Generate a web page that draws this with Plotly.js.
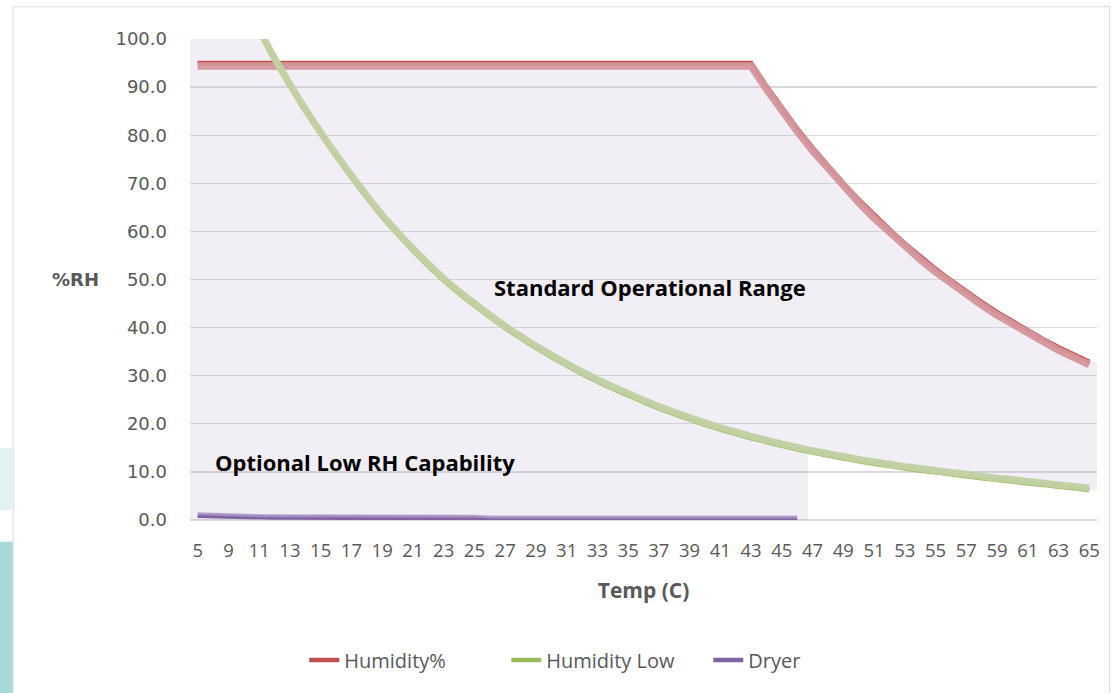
<!DOCTYPE html>
<html>
<head>
<meta charset="utf-8">
<script src="https://cdn.plot.ly/plotly-3.0.1.min.js"></script>
<style>html,body{margin:0;padding:0;background:#fff;}#chart{width:1111px;height:693px;}</style>
</head>
<body>
<div id="chart"></div>
<script>
// ---- data ----
const temps = [5, 7, 9, 10, 11, 12, 13, 14, 15, 16, 17, 18, 19, 20, 21, 22, 23, 24, 25, 26, 27, 28, 29, 30,
  31, 32, 33, 34, 35, 36, 37, 38, 39, 40, 41, 42, 43, 44, 45, 46, 47, 48, 49, 50, 51, 52, 53, 54, 55, 56,
  57, 58, 59, 60, 61, 62, 63, 64, 65];

const humidity = [95, 95, 95, 95, 95, 95, 95, 95, 95, 95, 95, 95, 95, 95, 95, 95, 95, 95, 95, 95, 95, 95, 95, 95,
  95, 95, 95, 95, 95, 95, 95, 95, 95, 95, 95, 95, 95, 90.2, 85.7, 81.4, 77.4, 73.6, 70.0, 66.6, 63.4, 60.4, 57.5, 54.8, 52.2, 49.8,
  47.5, 45.3, 43.2, 41.3, 39.4, 37.6, 35.9, 34.4, 32.9];

const humidityLow = [141, 126, 113, 107, 101.5, 95.6, 90.2, 85.0, 80.2, 75.6, 71.2, 67.0, 63.0, 59.4, 56.0, 52.8, 49.8, 47.1, 44.6, 42.2, 39.9, 37.8, 35.8, 33.9,
  32.1, 30.4, 28.8, 27.3, 25.9, 24.5, 23.2, 22.0, 20.9, 19.8, 18.8, 17.9, 17.0, 16.2, 15.4, 14.7, 14.0, 13.4, 12.8, 12.2, 11.7, 11.2, 10.7, 10.3, 9.9, 9.5,
  9.1, 8.7, 8.3, 8.0, 7.6, 7.3, 6.9, 6.6, 6.2];

const dryer = [0.9, 0.8, 0.6, 0.5, 0.5, 0.5, 0.5, 0.5, 0.5, 0.5, 0.4, 0.4, 0.4, 0.4, 0.4, 0.4, 0.4, 0.4, 0.4, 0.2, 0.2, 0.2, 0.2, 0.2,
  0.2, 0.2, 0.2, 0.2, 0.2, 0.2, 0.2, 0.2, 0.2, 0.2, 0.2, 0.2, 0.2, 0.2, 0.2, 0.2, null, null, null, null, null, null, null, null, null, null,
  null, null, null, null, null, null, null, null, null];

const seriesNames = ['Humidity%', 'Humidity Low', 'Dryer'];
const regionLabels = ['Standard Operational Range', 'Optional Low RH Capability'];
const lowRangeStartTemp = 47; // optional low-RH region ends where this temperature begins

// ---- derived ----
const n = temps.length;
const idx = temps.map((t, i) => i);
const tickIdx = idx.filter(i => i % 2 === 0);
const tickText = tickIdx.map(i => String(temps[i]));

const topEdge = temps.map((t, i) => Math.min(100, Math.max(humidity[i], humidityLow[i])));
const k = temps.indexOf(lowRangeStartTemp);
const polyX = [-0.5].concat(idx, [n - 0.5, n - 0.5]);
const polyY = [topEdge[0]].concat(topEdge, [topEdge[n - 1], humidityLow[n - 1]]);
for (let i = n - 1; i >= k; i--) { polyX.push(i); polyY.push(humidityLow[i]); }
polyX.push(k - 0.3, k - 0.3, -0.5); polyY.push(humidityLow[k], 0, 0);

const RED = '#c0504d', GREEN = '#9bbb59', PURPLE = '#8064a2';
const SM = {shape: 'spline', smoothing: 0.5};
const LIN = {shape: 'linear'};
const traces = [
  {x: polyX, y: polyY, mode: 'lines', fill: 'toself', fillcolor: 'rgba(196,186,214,0.24)',
   line: {width: 0}, showlegend: false, hoverinfo: 'skip'},
  {x: idx, y: humidity, name: seriesNames[0], mode: 'lines', line: Object.assign({color: RED, width: 4.5}, LIN)},
  {x: idx, y: humidityLow, name: seriesNames[1], mode: 'lines', line: Object.assign({color: GREEN, width: 4.5}, SM)},
  {x: idx, y: dryer, name: seriesNames[2], mode: 'lines', line: Object.assign({color: PURPLE, width: 4.5}, LIN)},
  // pale highlight strokes
  {x: idx, y: humidity, yaxis: 'y2', mode: 'lines', line: Object.assign({color: 'rgba(212,150,155,0.95)', width: 7.5}, LIN),
   showlegend: false, hoverinfo: 'skip'},
  {x: idx, y: humidityLow, yaxis: 'y3', mode: 'lines', line: Object.assign({color: 'rgba(193,209,163,0.97)', width: 7}, SM),
   showlegend: false, hoverinfo: 'skip'},
  {x: idx, y: dryer, yaxis: 'y3', mode: 'lines', line: Object.assign({color: 'rgba(170,150,200,0.8)', width: 3}, LIN),
   showlegend: false, hoverinfo: 'skip'}
];

const grey = '#595959';
const layout = {
  width: 1111, height: 693,
  margin: {l: 190, r: 14, t: 39, b: 173},
  paper_bgcolor: '#ffffff', plot_bgcolor: '#ffffff',
  showlegend: true,
  legend: {orientation: 'h', x: 0.126, y: -0.291, xanchor: 'left', yanchor: 'middle',
    entrywidth: 157, entrywidthmode: 'pixels',
    font: {family: 'Open Sans, sans-serif', size: 20, color: grey}, traceorder: 'normal'},
  xaxis: {range: [-0.5, n - 0.5], tickmode: 'array', tickvals: tickIdx, ticktext: tickText,
    showgrid: false, zeroline: false, showline: false, ticks: '', ticklabelstandoff: 17,
    tickfont: {family: 'Open Sans, sans-serif', size: 18.5, color: grey},
    title: {text: 'Temp (C)', standoff: 22, font: {family: 'Open Sans, sans-serif', size: 21, color: grey, weight: 'bold'}}},
  yaxis: {range: [0, 100], dtick: 10, tickformat: '.1f', gridcolor: '#d9d9d9', gridwidth: 1.3,
    zeroline: true, zerolinecolor: '#d9d9d9', zerolinewidth: 1.3, showline: false, ticks: '', ticklabelstandoff: 22,
    tickfont: {family: 'DejaVu Sans, sans-serif', size: 18, color: grey}},
  yaxis2: {overlaying: 'y', range: [0.6, 100.6], visible: false},
  yaxis3: {overlaying: 'y', range: [-0.4, 99.6], visible: false},
  annotations: [
    {x: 29.4, y: 48.4, xref: 'x', yref: 'y', text: '<b>' + regionLabels[0] + '</b>', showarrow: false,
     font: {family: 'Open Sans, sans-serif', size: 22, color: '#000'}, xanchor: 'center', yanchor: 'middle'},
    {x: 1.0, y: 12.0, xref: 'x', yref: 'y', text: '<b>' + regionLabels[1] + '</b>', showarrow: false,
     font: {family: 'Open Sans, sans-serif', size: 22, color: '#000'}, xanchor: 'left', yanchor: 'middle'},
    {x: -0.126, y: 0.5, xref: 'paper', yref: 'paper', text: '<b>%RH</b>', showarrow: false,
     font: {family: 'DejaVu Sans, sans-serif', size: 18, color: grey}, xanchor: 'center', yanchor: 'middle'}
  ],
  shapes: [
    {type: 'rect', xref: 'paper', yref: 'paper', x0: -0.195, x1: 1.014, y0: -0.82, y1: 1.067,
     line: {color: '#d9d9d9', width: 1}, fillcolor: 'rgba(0,0,0,0)', layer: 'below'},
    {type: 'rect', xref: 'paper', yref: 'paper', x0: -0.2095, x1: -0.1955, y0: -0.36, y1: -0.045,
     line: {width: 0}, fillcolor: '#a9d8db', layer: 'below'},
    {type: 'rect', xref: 'paper', yref: 'paper', x0: -0.2095, x1: -0.1955, y0: 0.02, y1: 0.15,
     line: {width: 0}, fillcolor: '#e2f2f3', layer: 'below'}
  ]
};

Plotly.newPlot('chart', traces, layout, {displayModeBar: false, staticPlot: true});
</script>
</body>
</html>
